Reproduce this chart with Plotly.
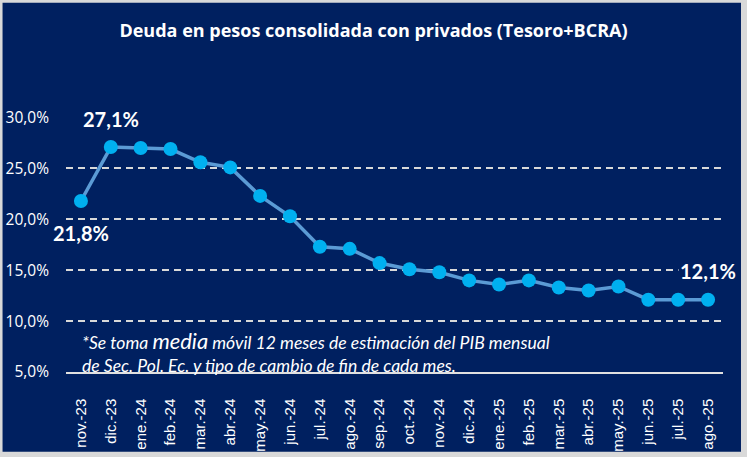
import plotly.graph_objects as go

months = ["nov.-23", "dic.-23", "ene.-24", "feb.-24", "mar.-24", "abr.-24", "may.-24",
          "jun.-24", "jul.-24", "ago.-24", "sep.-24", "oct.-24", "nov.-24", "dic.-24",
          "ene.-25", "feb.-25", "mar.-25", "abr.-25", "may.-25", "jun.-25", "jul.-25", "ago.-25"]
deuda_pct = [21.8, 27.1, 27.0, 26.9, 25.6, 25.1, 22.3, 20.3, 17.3, 17.1, 15.7, 15.1,
             14.8, 14.0, 13.6, 14.0, 13.3, 13.0, 13.4, 12.1, 12.1, 12.1]
y_ticks = [5, 10, 15, 20, 25, 30]
y_tick_labels = ["5,0%", "10,0%", "15,0%", "20,0%", "25,0%", "30,0%"]

NAVY = "#002060"
W, H = 747, 457
ml, mr, mt, mb = 65.5, 24, 116.5, 85
pw = W - ml - mr
ph = H - mt - mb

fig = go.Figure()
fig.add_trace(go.Scatter(
    x=list(range(len(months))), y=deuda_pct, mode="lines+markers",
    line=dict(color="#5B9BD5", width=3.5),
    marker=dict(color="#00B0F0", size=14),
    hoverinfo="skip", showlegend=False,
))

# navy card over gray border
fig.add_shape(type="rect", xref="paper", yref="paper", layer="below",
              x0=(2 - ml) / pw, x1=(741 - ml) / pw,
              y0=-(452 - (H - mb)) / ph, y1=1 + (mt - 2) / ph,
              fillcolor=NAVY, line_width=0)

lab_font = dict(family="Lato", size=20, color="white")
fig.add_annotation(x=0, y=deuda_pct[0], text="<b>21,8%</b>", showarrow=False,
                   yshift=-32, font=lab_font)
fig.add_annotation(x=1, y=deuda_pct[1], text="<b>27,1%</b>", showarrow=False,
                   yshift=28, font=lab_font, bgcolor=NAVY)
fig.add_annotation(x=len(months) - 1, y=deuda_pct[-1], text="<b>12,1%</b>", showarrow=False,
                   yshift=29, font=lab_font, bgcolor=NAVY)

note_text = ("<i>*Se toma <span style='font-size:22px'>media</span>"
             " móvil 12 meses de estimación del PIB mensual<br>"
             "de Sec. Pol. Ec. y tipo de cambio de fin de cada mes.</i>")
fig.add_annotation(
    xref="paper", yref="paper", x=(80 - ml) / pw, y=(H - mb - 351) / ph,
    xanchor="left", yanchor="middle", align="left", showarrow=False,
    text=note_text,
    font=dict(family="Lato", size=17.6, color="white"),
)

fig.update_layout(
    width=W, height=H,
    margin=dict(l=ml, r=mr, t=mt, b=mb, autoexpand=False),
    paper_bgcolor="#D9D9D9", plot_bgcolor=NAVY,
    title=dict(text="<b>Deuda en pesos consolidada con privados (Tesoro+BCRA)</b>",
               x=0.5, xanchor="center", y=1 - 30.7 / H, yanchor="middle",
               font=dict(family="Open Sans", size=18, color="white")),
    xaxis=dict(range=[-0.5, len(months) - 0.5], tickmode="array",
               tickvals=list(range(len(months))), ticktext=months,
               tickangle=-90, showgrid=False, zeroline=False, automargin=False,
               showline=True, linecolor="#E0E0E0",
               linewidth=1.5, ticks="", ticklabelstandoff=19,
               tickfont=dict(family="Liberation Sans", size=15, color="white"),
               fixedrange=True),
    yaxis=dict(range=[5, 30.05], tickmode="array", tickvals=y_ticks, ticktext=y_tick_labels,
               showgrid=True, gridcolor="#D9D9D9", gridwidth=2, griddash="7px,5px",
               zeroline=False, ticks="", ticklabelstandoff=16, automargin=False,
               tickfont=dict(family="Open Sans", size=15.5, color="white"),
               fixedrange=True),
)

fig.write_html("out.html")
